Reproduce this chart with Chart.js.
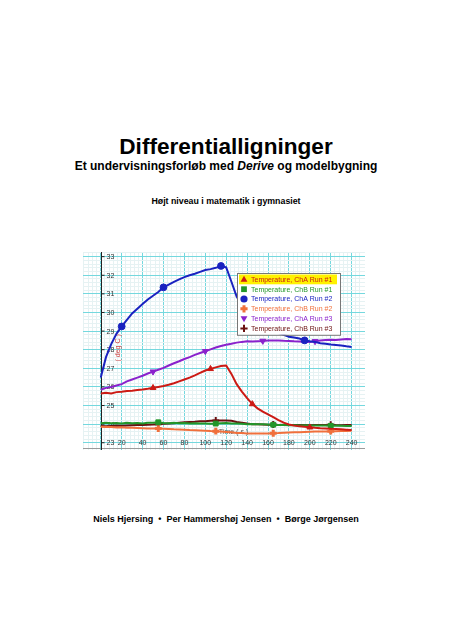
<!DOCTYPE html>
<html>
<head>
<meta charset="utf-8">
<script src="https://cdn.jsdelivr.net/npm/chart.js@4.4.1/dist/chart.umd.min.js"></script>
<style>
  html, body { margin: 0; padding: 0; background: #fff; }
  body {
    width: 452px; height: 640px; position: relative; overflow: hidden;
    font-family: "Liberation Sans", Arial, sans-serif; font-weight: bold; color: #000;
  }
  .line { position: absolute; left: 0; width: 452px; text-align: center; line-height: 1; white-space: nowrap; }
  #title { top: 136px; font-size: 22.6px; }
  #sub { top: 160px; font-size: 12px; }
  #level { top: 196.5px; font-size: 8.8px; }
  #authors { top: 514.5px; font-size: 9px; }
  #chartBox { position: absolute; left: 83px; top: 252px; width: 282px; height: 198px; }
</style>
</head>
<body>
<div class="line" id="title">Differentialligninger</div>
<div class="line" id="sub">Et undervisningsforløb med <i>Derive</i> og modelbygning</div>
<div class="line" id="level">Højt niveau i matematik i gymnasiet</div>
<div id="chartBox"><canvas id="chart"></canvas></div>
<div class="line" id="authors">Niels Hjersing &nbsp;•&nbsp; Per Hammershøj Jensen &nbsp;•&nbsp; Børge Jørgensen</div>

<script>
// time (s)
const times = [0, 5, 10, 15, 20, 25, 30, 35, 40, 45, 50, 55, 60, 65, 70, 75, 80, 85, 90, 95,
  100, 105, 110, 115, 120, 125, 130, 135, 140, 145, 150, 155, 160, 165, 170, 175, 180, 185, 190, 195,
  200, 205, 210, 215, 220, 225, 230, 235, 240];

// temperature (deg C)
const chA1 = [25.65, 25.68, 25.65, 25.72, 25.74, 25.78, 25.8, 25.83, 25.86, 25.9, 25.95, 26.0, 26.05, 26.12, 26.2, 26.3, 26.4, 26.5, 26.62, 26.75,
  26.88, 26.97, 27.05, 27.12, 27.15, 26.7, 26.15, 25.75, 25.4, 25.08, 24.85, 24.67, 24.52, 24.38, 24.22, 24.08, 23.98, 23.92, 23.88, 23.86,
  23.83, 23.8, 23.78, 23.77, 23.75, 23.74, 23.72, 23.7, 23.68];
const chB1 = [24.05, 24.08, 24.05, 24.06, 24.04, 24.07, 24.05, 24.06, 24.04, 24.07, 24.08, 24.1, 24.06, 24.05, 24.07, 24.05, 24.06, 24.04, 24.05, 24.03,
  24.04, 24.02, 24.03, 24.05, 24.06, 24.04, 24.03, 24.02, 24.0, 24.01, 23.99, 24.0, 23.98, 23.97, 23.96, 23.95, 23.94, 23.94, 23.93, 23.94,
  23.93, 23.92, 23.93, 23.92, 23.91, 23.92, 23.91, 23.9, 23.9];
const chA2 = [26.5, 27.6, 28.3, 28.85, 29.25, 29.6, 29.95, 30.2, 30.45, 30.7, 30.9, 31.1, 31.35, 31.5, 31.65, 31.78, 31.9, 32.0, 32.08, 32.18,
  32.28, 32.33, 32.4, 32.5, 32.42, 31.65, 30.85, 30.4, 30.05, 29.75, 29.5, 29.3, 29.15, 29.02, 28.9, 28.8, 28.7, 28.66, 28.6, 28.5,
  28.45, 28.42, 28.35, 28.32, 28.28, 28.25, 28.22, 28.18, 28.15];
const chB2 = [23.86, 23.84, 23.85, 23.82, 23.83, 23.8, 23.8, 23.79, 23.78, 23.77, 23.77, 23.76, 23.75, 23.74, 23.72, 23.71, 23.7, 23.68, 23.67, 23.66,
  23.65, 23.63, 23.62, 23.6, 23.58, 23.56, 23.53, 23.52, 23.5, 23.5, 23.49, 23.5, 23.5, 23.51, 23.52, 23.54, 23.55, 23.56, 23.57, 23.58,
  23.59, 23.6, 23.6, 23.61, 23.62, 23.62, 23.63, 23.63, 23.64];
const chA3 = [25.85, 25.95, 26.0, 26.08, 26.15, 26.3, 26.4, 26.5, 26.6, 26.72, 26.82, 26.92, 27.02, 27.15, 27.27, 27.38, 27.5, 27.6, 27.72, 27.82,
  27.92, 28.02, 28.12, 28.2, 28.27, 28.32, 28.38, 28.42, 28.45, 28.44, 28.46, 28.47, 28.5, 28.49, 28.5, 28.48, 28.47, 28.45, 28.44, 28.43,
  28.42, 28.45, 28.5, 28.52, 28.53, 28.52, 28.55, 28.57, 28.56];
const chB3 = [23.9, 23.88, 23.9, 23.92, 23.91, 23.93, 23.94, 23.95, 23.96, 23.97, 23.98, 24.0, 24.02, 24.04, 24.05, 24.08, 24.1, 24.12, 24.13, 24.15,
  24.16, 24.18, 24.2, 24.19, 24.2, 24.18, 24.12, 24.08, 24.03, 24.0, 23.99, 23.98, 23.97, 23.98, 23.96, 23.97, 23.96, 23.95, 23.96, 23.95,
  23.94, 23.95, 23.96, 23.95, 23.97, 23.95, 23.94, 23.95, 23.95];

// times where a marker is shown on each run
const chA1Marks = [50, 105, 145, 200];
const chB1Marks = [55, 110, 165, 220];
const chA2Marks = [20, 60, 115, 195];
const chB2Marks = [55, 110, 165, 220];
const chA3Marks = [50, 100, 155, 205];
const chB3Marks = [55, 110, 165, 220];

const seriesNames = ['Temperature, ChA Run #1', 'Temperature, ChB Run #1', 'Temperature, ChA Run #2',
  'Temperature, ChB Run #2', 'Temperature, ChA Run #3', 'Temperature, ChB Run #3'];

const yTickLabels = [23, 24, 25, 26, 27, 28, 29, 30, 31, 32, 33];
const xTickLabels = [20, 40, 60, 80, 100, 120, 140, 160, 180, 200, 220, 240];

const FONT = '"Liberation Sans", Arial, sans-serif';

function toPoints(values) {
  return values.map((v, i) => ({ x: times[i], y: v }));
}

function makeRun(name, values, marks, color, style, rotation, markWidth) {
  return {
    label: name,
    data: toPoints(values),
    borderColor: color,
    backgroundColor: color,
    borderWidth: 2,
    pointStyle: style,
    pointRotation: rotation,
    pointBackgroundColor: color,
    pointBorderColor: color,
    pointBorderWidth: markWidth,
    pointRadius: (c) => (marks.includes(times[c.dataIndex]) ? 3.4 : 0),
    tension: 0,
    fill: false
  };
}

function drawMark(ctx, style, rot, x, y, r, color, bw) {
  ctx.save();
  ctx.translate(x, y);
  ctx.rotate((rot || 0) * Math.PI / 180);
  ctx.fillStyle = color;
  ctx.strokeStyle = color;
  ctx.lineWidth = bw;
  ctx.beginPath();
  if (style === 'triangle') {
    ctx.moveTo(0, -r);
    ctx.lineTo(r * 0.95, r * 0.65);
    ctx.lineTo(-r * 0.95, r * 0.65);
    ctx.closePath();
    ctx.fill();
  } else if (style === 'rect') {
    ctx.fillRect(-r * 0.8, -r * 0.8, r * 1.6, r * 1.6);
  } else if (style === 'circle') {
    ctx.arc(0, 0, r, 0, Math.PI * 2);
    ctx.fill();
  } else {
    ctx.moveTo(-r, 0); ctx.lineTo(r, 0);
    ctx.moveTo(0, -r); ctx.lineTo(0, r);
    ctx.stroke();
  }
  ctx.restore();
}

// axis line, tick labels and axis titles drawn inside the plot like the original logger graph
const axesInside = {
  id: 'axesInside',
  beforeDatasetsDraw(chart) {
    const { ctx, chartArea: a, scales: { x, y } } = chart;
    const x0 = Math.round(x.getPixelForValue(0)) + 0.5;
    ctx.save();
    ctx.strokeStyle = '#9a9a9a';
    ctx.lineWidth = 1;
    ctx.beginPath();
    ctx.moveTo(a.left, a.bottom - 1.5);
    ctx.lineTo(a.right, a.bottom - 1.5);
    ctx.stroke();
    ctx.strokeStyle = '#222';
    ctx.beginPath();
    ctx.moveTo(x0, a.top);
    ctx.lineTo(x0, a.bottom);
    ctx.stroke();

    ctx.fillStyle = '#333';
    ctx.font = '7px ' + FONT;
    ctx.textBaseline = 'middle';
    ctx.textAlign = 'left';
    yTickLabels.forEach((v) => {
      const py = y.getPixelForValue(v);
      ctx.beginPath();
      ctx.moveTo(x0, py); ctx.lineTo(x0 + 3, py);
      ctx.stroke();
      ctx.fillText(String(v), x0 + 5, py + 0.5);
    });
    ctx.textAlign = 'center';
    const ly = y.getPixelForValue(23) + 0.5;
    xTickLabels.forEach((v) => {
      ctx.fillText(String(v), x.getPixelForValue(v), ly);
    });

    ctx.fillStyle = '#555';
    ctx.fillText('Time ( s )', x.getPixelForValue(127), y.getPixelForValue(23.6));

    ctx.translate(x0 + 17, y.getPixelForValue(28.1));
    ctx.rotate(-Math.PI / 2);
    ctx.fillStyle = '#d04848';
    ctx.fillText('( deg C )', 0, 0);
    ctx.restore();
  }
};

const runLegend = {
  id: 'runLegend',
  afterDatasetsDraw(chart) {
    const { ctx, chartArea: a } = chart;
    const lx = a.left + 154, ly = a.top + 21, w = 103, rowH = 9.8;
    const h = rowH * 6 + 3;
    ctx.save();
    ctx.fillStyle = '#fff';
    ctx.fillRect(lx, ly, w, h);
    ctx.strokeStyle = '#777';
    ctx.lineWidth = 1;
    ctx.strokeRect(lx + 0.5, ly + 0.5, w, h);
    ctx.font = '7px ' + FONT;
    ctx.textBaseline = 'middle';
    ctx.textAlign = 'left';
    chart.data.datasets.forEach((ds, i) => {
      const cy = ly + 1.5 + rowH * i + rowH / 2;
      if (i === 0) {
        ctx.fillStyle = '#fff200';
        ctx.fillRect(lx + 2, cy - rowH / 2, w - 5, rowH);
      }
      drawMark(ctx, ds.pointStyle, ds.pointRotation, lx + 7, cy, 3.6, ds.borderColor, ds.pointBorderWidth);
      ctx.fillStyle = ds.borderColor;
      ctx.fillText(ds.label, lx + 14, cy + 0.5);
    });
    ctx.restore();
  }
};

function gridColor(v, step) {
  if (Math.abs(v - Math.round(v / step) * step) < 1e-6) return '#74d8de';
  return '#e6f2f3';
}

new Chart(document.getElementById('chart'), {
  type: 'line',
  data: {
    datasets: [
      makeRun(seriesNames[0], chA1, chA1Marks, '#cc1a14', 'triangle', 0, 1),
      makeRun(seriesNames[1], chB1, chB1Marks, '#22962a', 'rect', 0, 1),
      makeRun(seriesNames[2], chA2, chA2Marks, '#1a22c0', 'circle', 0, 1),
      makeRun(seriesNames[3], chB2, chB2Marks, '#f0703c', 'cross', 0, 3),
      makeRun(seriesNames[4], chA3, chA3Marks, '#8a22cc', 'triangle', 180, 1),
      makeRun(seriesNames[5], chB3, chB3Marks, '#6a1010', 'cross', 0, 2)
    ]
  },
  options: {
    responsive: true,
    maintainAspectRatio: false,
    animation: false,
    events: [],
    layout: { padding: 0 },
    plugins: {
      legend: { display: false },
      tooltip: { enabled: false }
    },
    scales: {
      x: {
        type: 'linear',
        min: -17,
        max: 252.8,
        ticks: { display: false, stepSize: 4 },
        grid: { drawTicks: false, color: (c) => gridColor(c.tick.value, 20), lineWidth: 1 },
        border: { display: false }
      },
      y: {
        type: 'linear',
        min: 22.61,
        max: 33.25,
        ticks: { display: false, stepSize: 0.2 },
        grid: { drawTicks: false, color: (c) => gridColor(c.tick.value, 1), lineWidth: 1 },
        border: { display: false }
      }
    }
  },
  plugins: [axesInside, runLegend]
});
</script>
</body>
</html>
